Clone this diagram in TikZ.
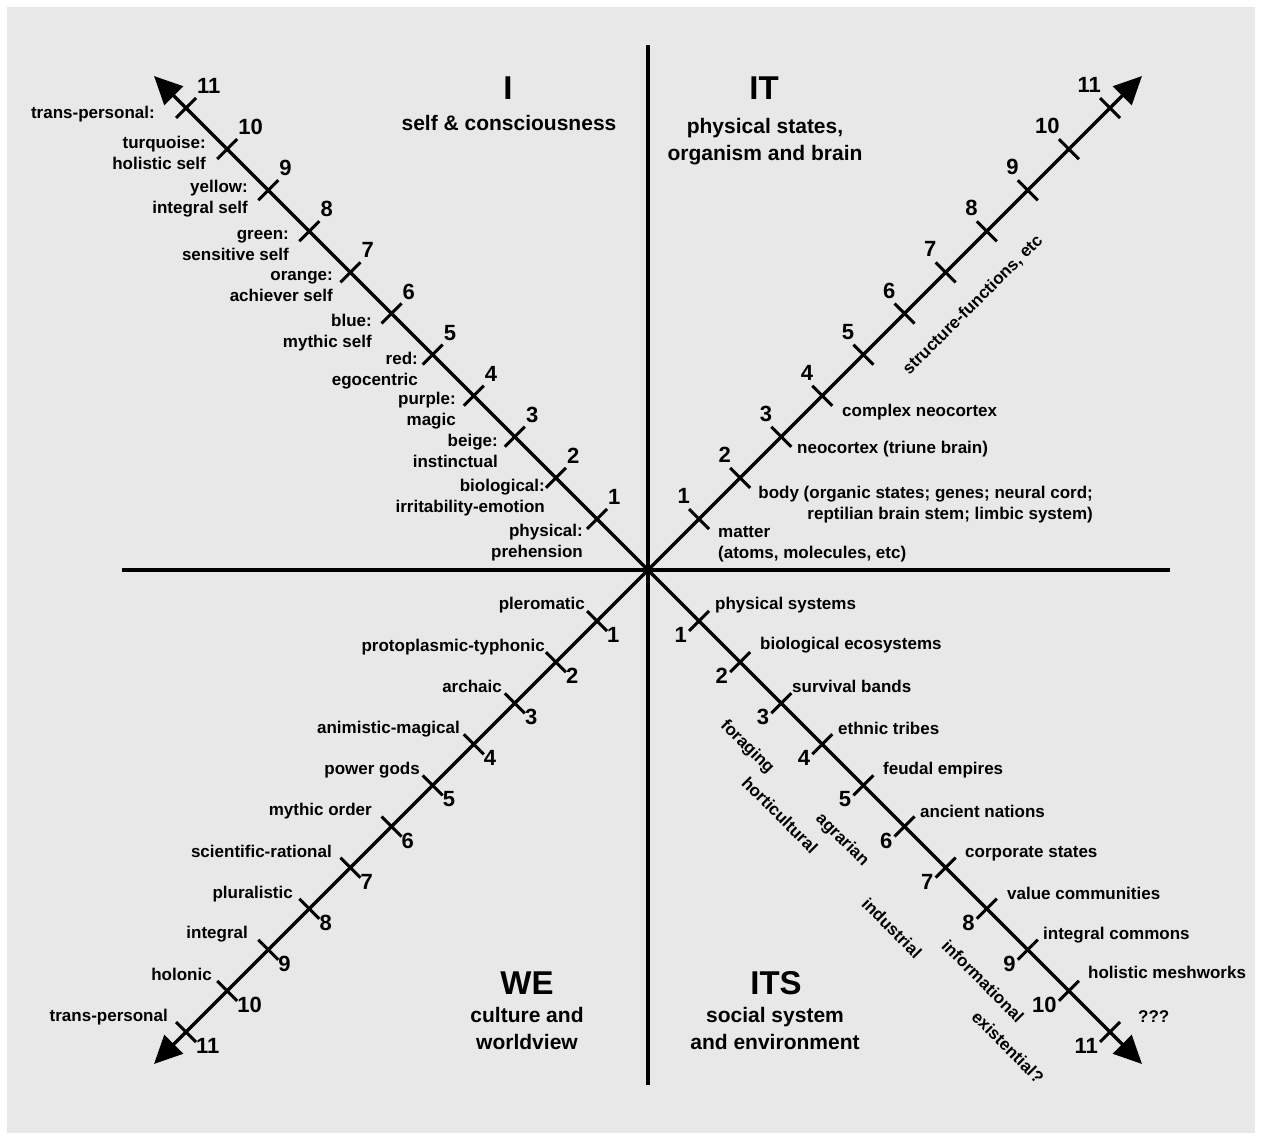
\documentclass[tikz,border=0pt]{standalone}
\usepackage{fontspec}
\setmainfont{Liberation Sans}
\usetikzlibrary{arrows.meta,calc}
\definecolor{panel}{HTML}{E8E8E8}
\begin{document}
\begin{tikzpicture}[x=1pt,y=-1pt,
  axis/.style={line width=3.5pt},
  arr/.style={line width=3.5pt,-{Triangle[length=28pt,width=26pt]}},
  tickmark/.style={line width=3pt},
  lbl/.style={font=\fontsize{17}{21}\selectfont\bfseries, inner sep=0pt},
  num/.style={font=\fontsize{22}{26}\selectfont\bfseries, inner sep=0pt},
  qtitle/.style={font=\fontsize{33}{38}\selectfont\bfseries, inner sep=0pt},
  qsub/.style={font=\fontsize{21}{27}\selectfont\bfseries, inner sep=0pt, align=center},
]
\useasboundingbox (0,0) rectangle (1262,1140);
\fill[white] (0,0) rectangle (1262,1140);
\fill[panel] (7,7) rectangle (1255,1133);

\coordinate (O) at (648,570);
\coordinate (Vtop) at (648,45);
\coordinate (Vbot) at (648,1085);
\coordinate (Hl) at (122,570);
\coordinate (Hr) at (1170,570);
\draw[axis] (Vtop) -- (Vbot);
\draw[axis] (Hl) -- (Hr);

\foreach \q/\sx/\sy in {ul/-1/-1, ur/1/-1, ll/-1/1, lr/1/1} {
  \coordinate (\q tip) at ($(O)+(\sx*494,\sy*494)$);
  \draw[arr] (O) -- (\q tip);
  \foreach \k in {1,...,11} {
    \pgfmathsetmacro\d{51+41.1*(\k-1)}
    \coordinate (\q t\k) at ($(O)+(\sx*\d,\sy*\d)$);
    \coordinate (\q a\k) at ($(\q t\k)+(\sx*10,-\sy*10)$);
    \coordinate (\q b\k) at ($(\q t\k)+(-\sx*10,\sy*10)$);
    \draw[tickmark] (\q a\k) -- (\q b\k);
  }
}

% numbers
\foreach \k in {1,...,11} {
  \node[num, anchor=west] (ulnum\k) at ($(ult\k)+(11,-22)$) {\k};
  \node[num, anchor=east] (urnum\k) at ($(urt\k)+(-9,-23)$) {\k};
  \node[num, anchor=west] (llnum\k) at ($(llt\k)+(10,14)$) {\k};
  \node[num, anchor=east] (lrnum\k) at ($(lrt\k)+(-12,14)$) {\k};
}

% quadrant titles
\node[qtitle] (tI) at (508,88) {I};
\node[qsub, anchor=base] (sI) at (509,131) {self \& consciousness};
\node[qtitle] (tIT) at (764,88) {IT};
\node[qsub, anchor=north] (sIT) at (765,114.1) {\strut physical states,\\organism and brain};
\node[qtitle] (tWE) at (527,983) {WE};
\node[qsub, anchor=north] (sWE) at (527,1003.1) {\strut culture and\\worldview};
\node[qtitle] (tITS) at (776,983) {ITS};
\node[qsub, anchor=north] (sITS) at (775,1003.1) {\strut social system\\and environment};

% upper left labels
\node[lbl, anchor=base east] (ul11) at (155,118) {trans-personal:};
\node[lbl, align=right, anchor=north east] (ul10) at (206,133.3) {\strut turquoise:\\holistic self};
\node[lbl, align=right, anchor=north east] (ul9) at (248,177.3) {\strut yellow:\\integral self};
\node[lbl, align=right, anchor=north east] (ul8) at (289,224.3) {\strut green:\\sensitive self};
\node[lbl, align=right, anchor=north east] (ul7) at (333,265.3) {\strut orange:\\achiever self};
\node[lbl, align=right, anchor=north east] (ul6) at (372,311.3) {\strut blue:\\mythic self};
\node[lbl, align=right, anchor=north east] (ul5) at (418,349.3) {\strut red:\\egocentric};
\node[lbl, align=right, anchor=north east] (ul4) at (456,389.3) {\strut purple:\\magic};
\node[lbl, align=right, anchor=north east] (ul3) at (498,431.3) {\strut beige:\\instinctual};
\node[lbl, align=right, anchor=north east] (ul2) at (545,476.3) {\strut biological:\\irritability-emotion};
\node[lbl, align=right, anchor=north east] (ul1) at (583,521.3) {\strut physical:\\prehension};

% upper right labels
\node[lbl, align=left, anchor=north west] (ur1) at (718,522.3) {\strut matter\\(atoms, molecules, etc)};
\node[lbl, align=right, anchor=north east] (ur2) at (1093,483.3) {\strut body (organic states; genes; neural cord;\\reptilian brain stem; limbic system)};
\node[lbl, anchor=base west] (ur3) at (797,453) {neocortex (triune brain)};
\node[lbl, anchor=base west] (ur4) at (842,416) {complex neocortex};
\node[lbl, rotate=45] (urrot) at (973,305) {structure-functions, etc};

% lower left labels
\node[lbl, anchor=base east] (ll1) at (585,609) {pleromatic};
\node[lbl, anchor=base east] (ll2) at (545,651) {protoplasmic-typhonic};
\node[lbl, anchor=base east] (ll3) at (502,692) {archaic};
\node[lbl, anchor=base east] (ll4) at (460,733) {animistic-magical};
\node[lbl, anchor=base east] (ll5) at (420,774) {power gods};
\node[lbl, anchor=base east] (ll6) at (372,815) {mythic order};
\node[lbl, anchor=base east] (ll7) at (332,857) {scientific-rational};
\node[lbl, anchor=base east] (ll8) at (293,898) {pluralistic};
\node[lbl, anchor=base east] (ll9) at (248,938) {integral};
\node[lbl, anchor=base east] (ll10) at (212,980) {holonic};
\node[lbl, anchor=base east] (ll11) at (168,1021) {trans-personal};

% lower right labels
\node[lbl, anchor=base west] (lr1) at (715,609) {physical systems};
\node[lbl, anchor=base west] (lr2) at (760,649) {biological ecosystems};
\node[lbl, anchor=base west] (lr3) at (792,692) {survival bands};
\node[lbl, anchor=base west] (lr4) at (838,734) {ethnic tribes};
\node[lbl, anchor=base west] (lr5) at (883,774) {feudal empires};
\node[lbl, anchor=base west] (lr6) at (920,817) {ancient nations};
\node[lbl, anchor=base west] (lr7) at (965,857) {corporate states};
\node[lbl, anchor=base west] (lr8) at (1007,899) {value communities};
\node[lbl, anchor=base west] (lr9) at (1043,939) {integral commons};
\node[lbl, anchor=base west] (lr10) at (1088,978) {holistic meshworks};
\node[lbl, anchor=base west] (lr11) at (1138,1022) {???};

% techno-economic base (rotated)
\node[lbl, rotate=-45] (rfor) at (747,747) {foraging};
\node[lbl, rotate=-45] (rhor) at (780,815) {horticultural};
\node[lbl, rotate=-45] (ragr) at (842,840) {agrarian};
\node[lbl, rotate=-45] (rind) at (892,928) {industrial};
\node[lbl, rotate=-45] (rinf) at (983,981) {informational};
\node[lbl, rotate=-45] (rexi) at (1008,1047) {existential?};
\end{tikzpicture}
\end{document}
